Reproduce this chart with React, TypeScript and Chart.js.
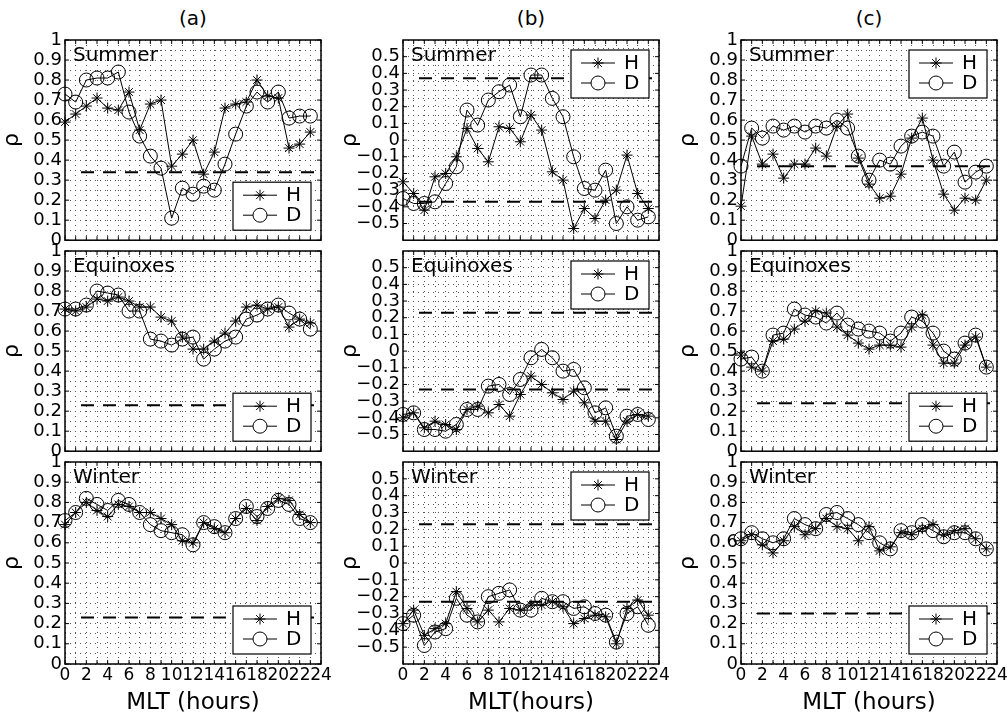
import React, { useEffect, useRef } from 'react';
import { Chart, registerables } from 'chart.js';

Chart.register(...registerables);

// ---------------- data ----------------
const HOURS = [0, 1, 2, 3, 4, 5, 6, 7, 8, 9, 10, 11, 12, 13, 14, 15, 16, 17, 18, 19, 20, 21, 22, 23];
const X_TICKS = [0, 1, 2, 3, 4, 5, 6, 7, 8, 9, 10, 11, 12, 13, 14, 15, 16, 17, 18, 19, 20, 21, 22, 23, 24];
const COLUMN_TITLES = ['(a)', '(b)', '(c)'];
const SEASONS = ['Summer', 'Equinoxes', 'Winter'];
const SERIES_LABELS = ['H', 'D'];
const THRESHOLD_SPAN = [1.5, 24];

const A_SUMMER_H = [0.59, 0.63, 0.67, 0.71, 0.66, 0.65, 0.74, 0.55, 0.68, 0.70, 0.37, 0.43, 0.50, 0.33, 0.44, 0.66, 0.68, 0.69, 0.80, 0.72, 0.71, 0.46, 0.48, 0.54];
const A_SUMMER_D = [0.73, 0.69, 0.80, 0.81, 0.81, 0.84, 0.64, 0.52, 0.42, 0.36, 0.11, 0.26, 0.23, 0.27, 0.25, 0.38, 0.53, 0.67, 0.74, 0.69, 0.74, 0.61, 0.62, 0.62];
const B_SUMMER_H = [-0.25, -0.32, -0.42, -0.22, -0.20, -0.10, 0.07, -0.05, -0.13, 0.08, 0.07, -0.01, 0.15, 0.06, -0.19, -0.24, -0.53, -0.41, -0.47, -0.36, -0.30, -0.09, -0.32, -0.41];
const B_SUMMER_D = [-0.35, -0.38, -0.38, -0.37, -0.26, -0.16, 0.18, 0.09, 0.24, 0.29, 0.33, 0.14, 0.39, 0.39, 0.25, 0.14, -0.10, -0.29, -0.30, -0.18, -0.50, -0.40, -0.48, -0.46];
const C_SUMMER_H = [0.17, 0.52, 0.38, 0.43, 0.31, 0.38, 0.38, 0.46, 0.42, 0.57, 0.63, 0.41, 0.28, 0.21, 0.22, 0.33, 0.51, 0.61, 0.40, 0.23, 0.15, 0.21, 0.20, 0.30];
const C_SUMMER_D = [0.37, 0.56, 0.51, 0.57, 0.55, 0.57, 0.54, 0.57, 0.56, 0.60, 0.56, 0.42, 0.30, 0.40, 0.38, 0.47, 0.52, 0.54, 0.52, 0.37, 0.44, 0.29, 0.34, 0.37];

const A_EQUINOX_H = [0.71, 0.70, 0.72, 0.76, 0.75, 0.77, 0.75, 0.72, 0.72, 0.67, 0.65, 0.57, 0.51, 0.51, 0.55, 0.59, 0.65, 0.72, 0.73, 0.71, 0.72, 0.62, 0.66, 0.64];
const A_EQUINOX_D = [0.71, 0.71, 0.73, 0.80, 0.79, 0.78, 0.70, 0.70, 0.56, 0.55, 0.53, 0.56, 0.57, 0.46, 0.51, 0.55, 0.57, 0.66, 0.68, 0.71, 0.73, 0.69, 0.66, 0.61];
const B_EQUINOX_H = [-0.40, -0.37, -0.46, -0.42, -0.44, -0.47, -0.35, -0.33, -0.37, -0.32, -0.39, -0.26, -0.15, -0.20, -0.25, -0.29, -0.24, -0.31, -0.42, -0.42, -0.53, -0.42, -0.38, -0.39];
const B_EQUINOX_D = [-0.38, -0.37, -0.47, -0.47, -0.48, -0.44, -0.35, -0.35, -0.21, -0.20, -0.26, -0.17, -0.04, 0.01, -0.04, -0.12, -0.11, -0.22, -0.37, -0.34, -0.51, -0.39, -0.38, -0.41];
const C_EQUINOX_H = [0.48, 0.42, 0.40, 0.55, 0.56, 0.61, 0.65, 0.70, 0.69, 0.62, 0.58, 0.54, 0.51, 0.53, 0.53, 0.52, 0.62, 0.68, 0.53, 0.44, 0.44, 0.53, 0.57, 0.42];
const C_EQUINOX_D = [0.46, 0.47, 0.40, 0.58, 0.59, 0.71, 0.68, 0.67, 0.64, 0.69, 0.63, 0.61, 0.60, 0.59, 0.55, 0.59, 0.67, 0.65, 0.59, 0.50, 0.46, 0.54, 0.58, 0.42];

const A_WINTER_H = [0.69, 0.75, 0.80, 0.76, 0.73, 0.79, 0.78, 0.75, 0.75, 0.72, 0.69, 0.61, 0.60, 0.70, 0.67, 0.65, 0.72, 0.77, 0.71, 0.78, 0.82, 0.81, 0.74, 0.70];
const A_WINTER_D = [0.71, 0.75, 0.82, 0.79, 0.76, 0.81, 0.79, 0.75, 0.69, 0.66, 0.65, 0.64, 0.59, 0.70, 0.68, 0.65, 0.72, 0.78, 0.73, 0.77, 0.81, 0.79, 0.72, 0.70];
const B_WINTER_H = [-0.36, -0.28, -0.43, -0.39, -0.36, -0.17, -0.27, -0.35, -0.28, -0.35, -0.27, -0.28, -0.25, -0.25, -0.23, -0.26, -0.36, -0.33, -0.31, -0.32, -0.48, -0.27, -0.22, -0.31];
const B_WINTER_D = [-0.36, -0.31, -0.49, -0.41, -0.39, -0.21, -0.31, -0.35, -0.20, -0.18, -0.16, -0.28, -0.28, -0.21, -0.23, -0.23, -0.27, -0.26, -0.30, -0.31, -0.47, -0.30, -0.26, -0.37];
const C_WINTER_H = [0.61, 0.64, 0.59, 0.55, 0.61, 0.68, 0.64, 0.67, 0.72, 0.68, 0.67, 0.61, 0.68, 0.56, 0.58, 0.65, 0.64, 0.67, 0.69, 0.64, 0.66, 0.67, 0.62, 0.57];
const C_WINTER_D = [0.62, 0.65, 0.62, 0.60, 0.62, 0.72, 0.69, 0.67, 0.74, 0.75, 0.72, 0.69, 0.65, 0.60, 0.57, 0.66, 0.65, 0.69, 0.66, 0.63, 0.65, 0.65, 0.62, 0.57];

// significance thresholds per season (summer, equinoxes, winter)
const A_THRESHOLDS = [0.34, 0.23, 0.23];
const B_THRESHOLDS = [0.37, 0.23, 0.23]; // drawn at +/- value
const C_THRESHOLDS = [0.37, 0.24, 0.25];

// y tick label values
const Y_LABELS_POS = [0, 0.1, 0.2, 0.3, 0.4, 0.5, 0.6, 0.7, 0.8, 0.9, 1];
const Y_LABELS_SYM = [-0.5, -0.4, -0.3, -0.2, -0.1, 0, 0.1, 0.2, 0.3, 0.4, 0.5];

// ---------------- layout ----------------
const FONT = '"DejaVu Sans", "Liberation Sans", Arial, sans-serif';
const COL_LEFT = [65, 403, 741];
const ROW_TOP = [40, 251, 462];
const PLOT_W = 256;
const PLOT_H = 202;
const PAD_L = 64;
const PAD_T = 14;
const PAD_R = 16;
const PAD_B = 12;
const PAGE_W = 1008;
const PAGE_H = 721;
const GRID_COLOR = '#555';

type PanelDef = {
  col: number;
  row: number;
  h: number[];
  d: number[];
  thr: number;
  sym: boolean;
  legendTop: boolean;
};

const PANELS: PanelDef[] = [
  { col: 0, row: 0, h: A_SUMMER_H, d: A_SUMMER_D, thr: A_THRESHOLDS[0], sym: false, legendTop: false },
  { col: 1, row: 0, h: B_SUMMER_H, d: B_SUMMER_D, thr: B_THRESHOLDS[0], sym: true, legendTop: true },
  { col: 2, row: 0, h: C_SUMMER_H, d: C_SUMMER_D, thr: C_THRESHOLDS[0], sym: false, legendTop: true },
  { col: 0, row: 1, h: A_EQUINOX_H, d: A_EQUINOX_D, thr: A_THRESHOLDS[1], sym: false, legendTop: false },
  { col: 1, row: 1, h: B_EQUINOX_H, d: B_EQUINOX_D, thr: B_THRESHOLDS[1], sym: true, legendTop: true },
  { col: 2, row: 1, h: C_EQUINOX_H, d: C_EQUINOX_D, thr: C_THRESHOLDS[1], sym: false, legendTop: false },
  { col: 0, row: 2, h: A_WINTER_H, d: A_WINTER_D, thr: A_THRESHOLDS[2], sym: false, legendTop: false },
  { col: 1, row: 2, h: B_WINTER_H, d: B_WINTER_D, thr: B_THRESHOLDS[2], sym: true, legendTop: true },
  { col: 2, row: 2, h: C_WINTER_H, d: C_WINTER_D, thr: C_THRESHOLDS[2], sym: false, legendTop: false },
];

function gridValues(min: number, max: number, step: number): number[] {
  const out: number[] = [];
  const n = Math.round((max - min) / step);
  for (let i = 0; i <= n; i++) out.push(Math.round((min + i * step) * 1000) / 1000);
  return out;
}

function fmtY(v: number): string {
  const r = Math.round(v * 10) / 10;
  if (r === 0) return '0';
  const s = String(Math.abs(r));
  return r < 0 ? '\u2212' + s : s;
}

function drawStar(ctx: CanvasRenderingContext2D, cx: number, cy: number, r: number) {
  const d = r * Math.SQRT1_2;
  ctx.beginPath();
  ctx.moveTo(cx - r, cy); ctx.lineTo(cx + r, cy);
  ctx.moveTo(cx, cy - r); ctx.lineTo(cx, cy + r);
  ctx.moveTo(cx - d, cy - d); ctx.lineTo(cx + d, cy + d);
  ctx.moveTo(cx - d, cy + d); ctx.lineTo(cx + d, cy - d);
  ctx.stroke();
}

function Panel({ p }: { p: PanelDef }) {
  const ref = useRef<HTMLCanvasElement>(null);
  const isBottom = p.row === 2;
  const bottomSpace = isBottom ? PAGE_H - (ROW_TOP[2] + PLOT_H) : PAD_B;
  const width = PAD_L + PLOT_W + PAD_R;
  const height = PAD_T + PLOT_H + bottomSpace;

  useEffect(() => {
    const canvas = ref.current;
    if (!canvas) return;
    const yMin = p.sym ? -0.6 : 0;
    const yMax = p.sym ? 0.6 : 1;
    const yGrid = gridValues(yMin, yMax, 0.05);
    const yLabels = p.sym ? Y_LABELS_SYM : Y_LABELS_POS;
    const thrValues = p.sym ? [p.thr, -p.thr] : [p.thr];

    const datasets: any[] = [
      {
        label: SERIES_LABELS[1],
        data: HOURS.map((x, i) => ({ x, y: p.d[i] })),
        borderColor: '#000',
        borderWidth: 1,
        pointStyle: 'circle',
        pointRadius: 7,
        pointBorderWidth: 1,
        pointBorderColor: '#000',
        pointBackgroundColor: 'rgba(0,0,0,0)',
        backgroundColor: 'rgba(0,0,0,0)',
        fill: false,
        clip: false,
      },
      {
        label: SERIES_LABELS[0],
        data: HOURS.map((x, i) => ({ x, y: p.h[i] })),
        borderColor: '#000',
        borderWidth: 1,
        pointStyle: 'star',
        pointRadius: 5.5,
        pointBorderWidth: 1,
        pointBorderColor: '#000',
        pointBackgroundColor: 'rgba(0,0,0,0)',
        fill: false,
        clip: false,
      },
      ...thrValues.map((t) => ({
        label: 'threshold',
        data: THRESHOLD_SPAN.map((x) => ({ x, y: t })),
        borderColor: '#000',
        borderWidth: 2,
        borderDash: [13, 9],
        pointRadius: 0,
        fill: false,
      })),
    ];

    const decor = {
      id: 'decor' + p.col + p.row,
      afterDraw(chart: any) {
        const { ctx, chartArea, scales } = chart;
        const { left, top, right, bottom } = chartArea;
        ctx.save();
        ctx.setLineDash([]);
        ctx.strokeStyle = '#000';
        // inward tick marks
        ctx.lineWidth = 1;
        ctx.beginPath();
        for (const h of X_TICKS) {
          const px = scales.x.getPixelForValue(h);
          ctx.moveTo(px, bottom); ctx.lineTo(px, bottom - 4);
          ctx.moveTo(px, top); ctx.lineTo(px, top + 4);
        }
        for (const v of yLabels) {
          const py = scales.y.getPixelForValue(v);
          ctx.moveTo(left, py); ctx.lineTo(left + 4, py);
          ctx.moveTo(right, py); ctx.lineTo(right - 4, py);
        }
        ctx.stroke();
        // box
        ctx.lineWidth = 1.5;
        ctx.strokeRect(left, top, right - left, bottom - top);
        // season label
        ctx.fillStyle = '#000';
        ctx.font = `20px ${FONT}`;
        ctx.textAlign = 'left';
        ctx.textBaseline = 'alphabetic';
        ctx.fillText(SEASONS[p.row], left + 8, top + 21);
        // legend
        const bw = 78;
        const bh = 48;
        const bx = right - 10 - bw;
        const by = p.legendTop ? top + 10 : bottom - 10 - bh;
        ctx.fillStyle = '#fff';
        ctx.fillRect(bx, by, bw, bh);
        ctx.lineWidth = 1.2;
        ctx.strokeStyle = '#000';
        ctx.strokeRect(bx, by, bw, bh);
        const rows = [by + 13, by + 33];
        ctx.lineWidth = 1;
        ctx.font = `20px ${FONT}`;
        ctx.textBaseline = 'middle';
        ctx.fillStyle = '#000';
        rows.forEach((ry, i) => {
          ctx.beginPath();
          ctx.moveTo(bx + 10, ry); ctx.lineTo(bx + 44, ry);
          ctx.stroke();
          const mx = bx + 27;
          if (i === 0) {
            drawStar(ctx, mx, ry, 5.5);
          } else {
            ctx.beginPath();
            ctx.arc(mx, ry, 7, 0, Math.PI * 2);
            ctx.fillStyle = '#fff';
            ctx.fill();
            ctx.stroke();
            ctx.fillStyle = '#000';
          }
          ctx.fillText(SERIES_LABELS[i], bx + 53, ry + 1);
        });
        ctx.restore();
      },
    };

    const chart = new Chart(canvas, {
      type: 'line',
      data: { datasets },
      plugins: [decor],
      options: {
        animation: false,
        responsive: false,
        devicePixelRatio: 1,
        events: [],
        layout: { padding: { left: 0, top: PAD_T, right: PAD_R, bottom: isBottom ? 0 : PAD_B } },
        plugins: { legend: { display: false }, tooltip: { enabled: false }, title: { display: false } },
        scales: {
          x: {
            type: 'linear',
            min: 0,
            max: 24,
            afterBuildTicks: (s: any) => { s.ticks = X_TICKS.map((value) => ({ value })); },
            afterFit: (s: any) => { s.height = isBottom ? bottomSpace : 0; },
            ticks: {
              display: isBottom,
              autoSkip: false,
              maxRotation: 0,
              minRotation: 0,
              padding: 1,
              color: '#000',
              font: { family: FONT, size: 17 },
              callback: (v: any) => (Math.round(v) % 2 === 0 ? String(Math.round(v)) : ''),
            },
            grid: { color: GRID_COLOR, lineWidth: 1, drawTicks: false },
            border: { display: false, dash: [1, 4] },
            title: {
              display: isBottom,
              text: p.col === 1 ? 'MLT(hours)' : 'MLT (hours)',
              color: '#000',
              font: { family: FONT, size: 23, lineHeight: 1 },
              padding: { top: 0, bottom: 6 },
            },
          },
          y: {
            type: 'linear',
            min: yMin,
            max: yMax,
            afterBuildTicks: (s: any) => { s.ticks = yGrid.map((value) => ({ value })); },
            afterFit: (s: any) => { s.width = PAD_L; },
            ticks: {
              autoSkip: false,
              padding: 3,
              color: '#000',
              font: { family: FONT, size: 18 },
              callback: (v: any) => {
                const hit = yLabels.some((l) => Math.abs(l - v) < 1e-6);
                return hit ? fmtY(v) : '';
              },
            },
            grid: { color: GRID_COLOR, lineWidth: 1, drawTicks: false },
            border: { display: false, dash: [1, 4] },
            title: {
              display: true,
              text: '\u03C1',
              color: '#000',
              font: { family: FONT, size: 22, lineHeight: 1 },
              padding: { top: 0, bottom: 0 },
            },
          },
        },
      } as any,
    });
    return () => chart.destroy();
  }, []);

  return (
    <canvas
      ref={ref}
      width={width}
      height={height}
      style={{
        position: 'absolute',
        left: COL_LEFT[p.col] - PAD_L,
        top: ROW_TOP[p.row] - PAD_T,
        width,
        height,
      }}
    />
  );
}

export default function App() {
  return (
    <div
      style={{
        position: 'absolute',
        left: 0,
        top: 0,
        width: PAGE_W,
        height: PAGE_H,
        overflow: 'hidden',
        background: '#fff',
      }}
    >
      {COLUMN_TITLES.map((t, i) => (
        <div
          key={t}
          style={{
            position: 'absolute',
            left: COL_LEFT[i],
            width: PLOT_W,
            top: 6,
            lineHeight: '24px',
            textAlign: 'center',
            fontFamily: FONT,
            fontSize: 20,
            color: '#000',
          }}
        >
          {t}
        </div>
      ))}
      {PANELS.map((p) => (
        <Panel key={`${p.col}-${p.row}`} p={p} />
      ))}
    </div>
  );
}
